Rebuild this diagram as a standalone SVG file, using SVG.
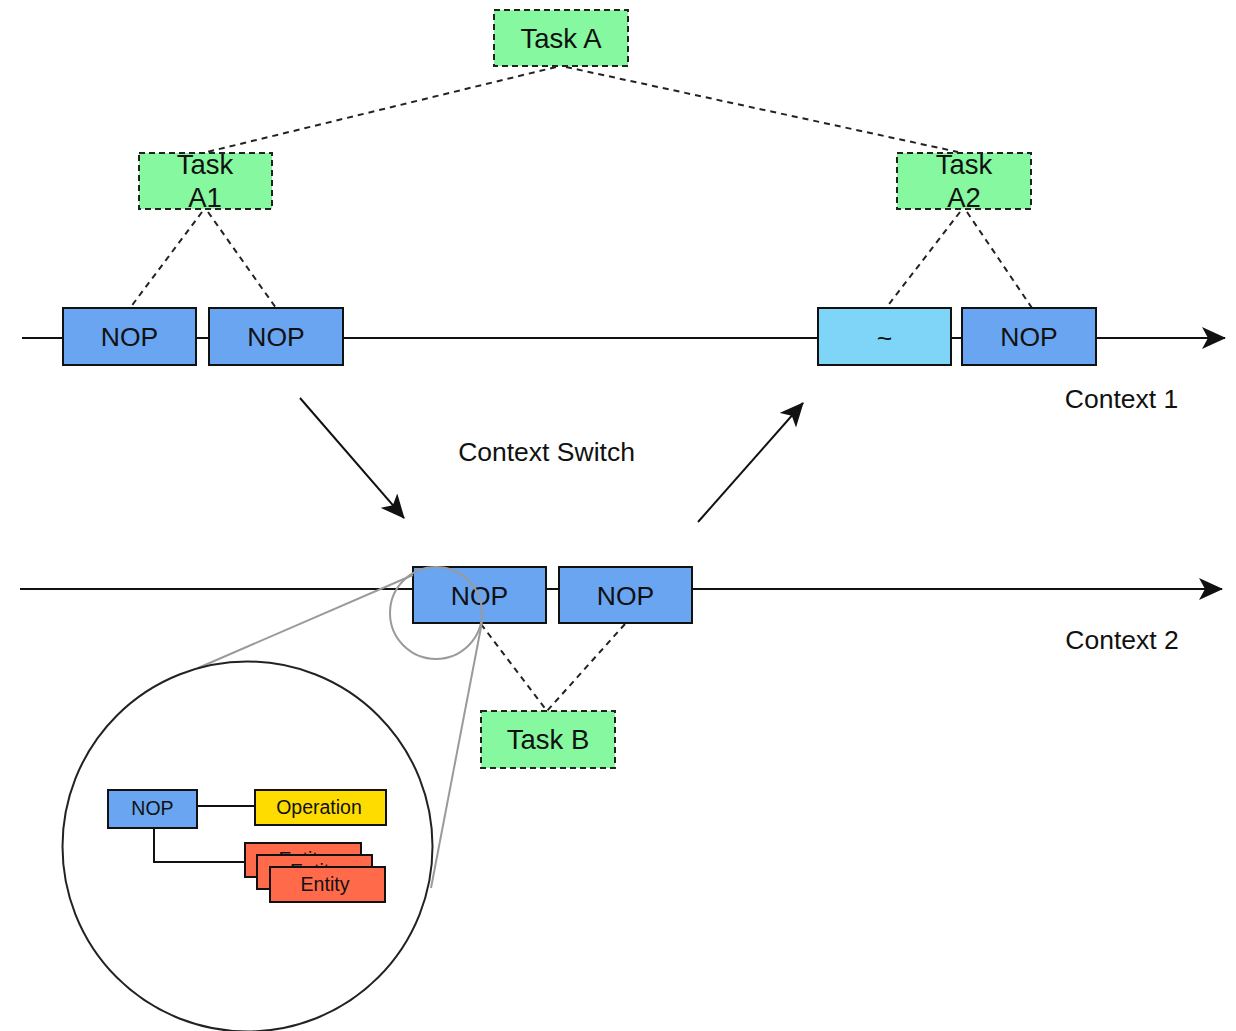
<svg xmlns="http://www.w3.org/2000/svg" width="1236" height="1031" viewBox="0 0 1236 1031">
<style>
text{font-family:"Liberation Sans",Arial,sans-serif;fill:#111;text-anchor:middle}
.t{font-size:26.5px}
.k{font-size:27.5px}
.s{font-size:19.5px}
.lbl{font-size:26.5px}
.nop{fill:#69a5f1;stroke:#111;stroke-width:2}
.task{fill:#86f89f;stroke:#222;stroke-width:2;stroke-dasharray:6 4}
.line{stroke:#111;stroke-width:2;fill:none}
.dash{stroke:#222;stroke-width:2;fill:none;stroke-dasharray:6 5}
.grey{stroke:#9a9a9a;stroke-width:2;fill:none}
</style>
<defs>
<marker id="arr" viewBox="0 0 24 22" refX="23" refY="11" markerWidth="24" markerHeight="22" markerUnits="userSpaceOnUse" orient="auto">
<path d="M0,0 L24,11 L0,22 L6,11 Z" fill="#111"/>
</marker>
</defs>
<rect width="1236" height="1031" fill="#fff"/>
<g id="connectors">
<line class="line" x1="22" y1="338" x2="1225" y2="338" marker-end="url(#arr)"/>
<line class="line" x1="20" y1="589" x2="1222" y2="589" marker-end="url(#arr)"/>
<line class="line" x1="300" y1="398" x2="404" y2="518" marker-end="url(#arr)"/>
<line class="line" x1="698" y1="522" x2="803" y2="403" marker-end="url(#arr)"/>
<path class="dash" d="M556,67 L203,153 M566,67 L958,152"/>
<path class="dash" d="M202,212 L130,308 M208,212 L276,308"/>
<path class="dash" d="M960,212 L886,308 M967,212 L1032,308"/>
<path class="dash" d="M481,624 L547,711 M625,624 L547,711"/>
<path class="line" d="M197,806 H255 M154,828 V862 H245"/>
</g>
<g id="taskA"><rect class="task" x="494" y="10" width="134" height="56"/><text class="k" x="561" y="48">Task A</text></g>
<g id="taskA1"><rect class="task" x="139" y="153" width="133" height="56"/><text class="k" x="205" y="174">Task</text><text class="k" x="205" y="207">A1</text></g>
<g id="taskA2"><rect class="task" x="897" y="153" width="134" height="56"/><text class="k" x="964" y="174">Task</text><text class="k" x="964" y="207">A2</text></g>
<g id="nop1"><rect class="nop" x="63" y="308" width="133" height="57"/><text class="t" x="129.5" y="346">NOP</text></g>
<g id="nop2"><rect class="nop" x="209" y="308" width="134" height="57"/><text class="t" x="276" y="346">NOP</text></g>
<g id="tilde"><rect x="818" y="308" width="133" height="57" fill="#7fd5f8" stroke="#111" stroke-width="2"/><text class="t" x="884.5" y="347">~</text></g>
<g id="nop4"><rect class="nop" x="962" y="308" width="134" height="57"/><text class="t" x="1029" y="346">NOP</text></g>
<g id="nop5"><rect class="nop" x="413" y="567" width="133" height="56"/><text class="t" x="479.5" y="605">NOP</text></g>
<g id="nop6"><rect class="nop" x="559" y="567" width="133" height="56"/><text class="t" x="625.5" y="605">NOP</text></g>
<g id="taskB"><rect class="task" x="481" y="711" width="134" height="57"/><text class="k" x="548" y="749">Task B</text></g>
<g id="labels">
<text class="lbl" x="1121.5" y="408">Context 1</text>
<text class="lbl" x="1122" y="649">Context 2</text>
<text class="lbl" x="546.5" y="461">Context Switch</text>
</g>
<g id="zoom">
<circle class="grey" cx="436" cy="613" r="46"/>
<line class="grey" x1="413" y1="575" x2="198" y2="668"/>
<line class="grey" x1="482" y1="622" x2="431" y2="888"/>
<circle cx="247.5" cy="846.5" r="185" fill="none" stroke="#222" stroke-width="2"/>
</g>
<g id="smallNop"><rect class="nop" x="108" y="790" width="89" height="38"/><text class="s" x="152.5" y="815">NOP</text></g>
<g id="operation"><rect x="255" y="790" width="131" height="35" fill="#ffdc00" stroke="#111" stroke-width="2"/><text class="s" x="319" y="814">Operation</text></g>
<g id="entity1"><rect x="245" y="843" width="116" height="34" fill="#ff6a4a" stroke="#111" stroke-width="2"/><text class="s" x="303" y="866">Entity</text></g>
<g id="entity2"><rect x="257" y="855" width="115" height="34" fill="#ff6a4a" stroke="#111" stroke-width="2"/><text class="s" x="314.5" y="878">Entity</text></g>
<g id="entity3"><rect x="270" y="867" width="115" height="35" fill="#ff6a4a" stroke="#111" stroke-width="2"/><text class="s" x="325" y="891">Entity</text></g>
</svg>
